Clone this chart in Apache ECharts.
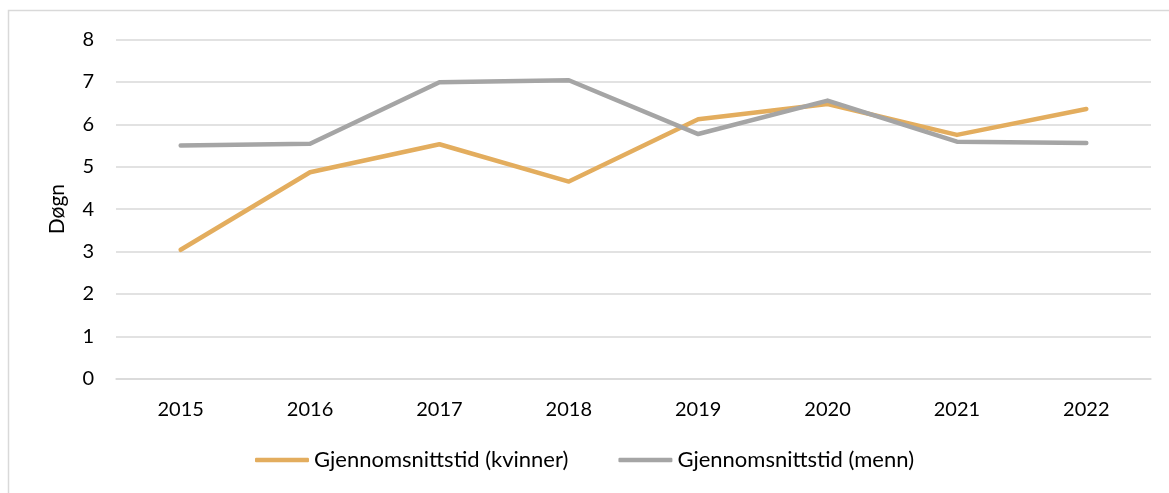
<!DOCTYPE html>
<html>
<head>
<meta charset="utf-8">
<script src="https://cdn.jsdelivr.net/npm/echarts@6/dist/echarts.min.js"></script>
<style>
html,body{margin:0;padding:0;background:#fff;}
#c{width:1169px;height:493px;}
</style>
</head>
<body>
<div id="c"></div>
<script>
const years = ['2015','2016','2017','2018','2019','2020','2021','2022'];
const kvinner = [3.04, 4.87, 5.53, 4.65, 6.12, 6.48, 5.75, 6.36];
const menn = [5.50, 5.54, 6.99, 7.04, 5.77, 6.56, 5.59, 5.56];
const seriesNames = ['Gjennomsnittstid (kvinner)', 'Gjennomsnittstid (menn)'];
const yAxisTitle = 'Døgn';

const FONT = 'Lato';
const chart = echarts.init(document.getElementById('c'), null, {renderer: 'canvas'});
chart.setOption({
  backgroundColor: '#ffffff',
  animation: false,
  graphic: [{
    type: 'rect',
    shape: {x: 8.5, y: 10.5, width: 1200, height: 520},
    style: {fill: 'none', stroke: '#d9d9d9', lineWidth: 1.5},
    silent: true
  }],
  grid: {left: 116, right: 18, top: 39.5, bottom: 114.3, containLabel: false},
  legend: {
    bottom: 17,
    left: 'center',
    itemWidth: 54,
    itemHeight: 4.5,
    itemGap: 50,
    icon: 'roundRect',
    textStyle: {fontFamily: FONT, fontSize: 22, color: '#000'},
    data: seriesNames.map(n => ({name: n}))
  },
  xAxis: {
    type: 'category',
    data: years,
    boundaryGap: true,
    axisLine: {show: true, lineStyle: {color: '#d9d9d9', width: 1.5}},
    axisTick: {show: false},
    axisLabel: {fontFamily: FONT, fontSize: 20, color: '#000', margin: 21}
  },
  yAxis: {
    type: 'value',
    min: 0, max: 8, interval: 1,
    name: yAxisTitle,
    nameLocation: 'middle',
    nameRotate: 90,
    nameGap: 48,
    nameTextStyle: {fontFamily: FONT, fontSize: 21, color: '#000'},
    axisLine: {show: false},
    axisTick: {show: false},
    splitLine: {lineStyle: {color: '#d9d9d9', width: 1.5}},
    axisLabel: {fontFamily: FONT, fontSize: 20, color: '#000', margin: 22}
  },
  series: [
    {
      name: seriesNames[0], type: 'line', data: kvinner, showSymbol: false, symbol: 'none',
      color: '#E3AD5E',
      lineStyle: {width: 4.5, color: '#E3AD5E', cap: 'round', join: 'round'}
    },
    {
      name: seriesNames[1], type: 'line', data: menn, showSymbol: false, symbol: 'none',
      color: '#A5A5A5',
      lineStyle: {width: 4.5, color: '#A5A5A5', cap: 'round', join: 'round'}
    }
  ]
});
</script>
</body>
</html>
